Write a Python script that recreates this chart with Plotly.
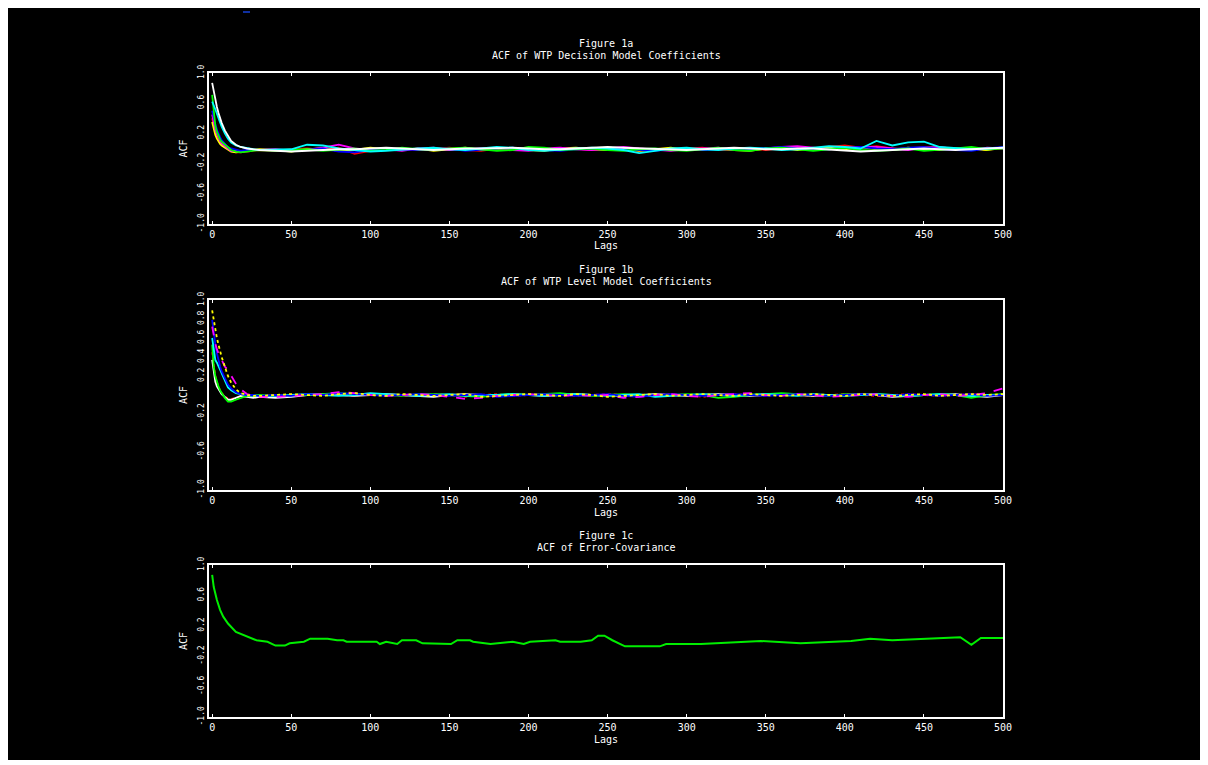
import plotly.graph_objects as go

# page body has an 8px margin; the figure covers x 8..1200, y 8..760 of the window
OFF = 8
W, H = 1192, 752

# ---------------- data ----------------
LAG_HEAD = [0, 1, 2, 3, 4, 5, 6, 8, 10, 12, 15, 18, 22, 26, 30]
LAG_TAIL = list(range(40, 501, 10))
LAGS = LAG_HEAD + LAG_TAIL

X_TICKS = [0, 50, 100, 150, 200, 250, 300, 350, 400, 450, 500]
Y_TICKS_A = [1.0, 0.6, 0.2, -0.2, -0.6, -1.0]
Y_TEXT_A = ["1.0", "0.6", "0.2", "-0.2", "-0.6", "-1.0"]
Y_TICKS_B = [1.0, 0.8, 0.6, 0.4, 0.2, -0.2, -0.6, -1.0]
Y_TEXT_B = ["1.0", "0.8", "0.6", "0.4", "0.2", "-0.2", "-0.6", "-1.0"]

# Figure 1a: ACF of WTP Decision Model Coefficients
a_red = [0.40, 0.30, 0.22, 0.16, 0.12, 0.08, 0.05, 0.02, -0.01, -0.03, -0.05, -0.05, -0.04, -0.03, -0.02,
         -0.03, -0.01, 0.00, -0.02, 0.01, -0.07, -0.03, -0.01, 0.00, -0.02,
         -0.01, 0.01, -0.02, -0.03, 0.00, -0.01, 0.01, -0.02, -0.01, 0.00,
         -0.02, 0.01, 0.00, -0.03, -0.02, -0.01, 0.00, 0.01, -0.02, -0.01,
         0.00, -0.02, 0.01, 0.02, 0.00, 0.02, 0.04, 0.01, 0.03, 0.00,
         -0.01, 0.02, 0.00, -0.02, 0.01, -0.01, 0.00]
a_yellow = [0.35, 0.25, 0.18, 0.13, 0.09, 0.06, 0.04, 0.01, -0.02, -0.04, -0.05, -0.04, -0.03, -0.02, -0.01,
            -0.02, -0.04, -0.01, 0.00, -0.03, -0.02, 0.01, -0.01, -0.02, 0.00,
            -0.03, -0.01, 0.01, -0.02, -0.01, 0.00, -0.02, -0.03, 0.00, 0.01,
            -0.01, -0.02, 0.00, -0.03, -0.01, 0.01, -0.02, -0.01, 0.00, -0.02,
            -0.03, 0.00, 0.01, -0.02, 0.00, 0.01, -0.01, 0.02, -0.01, -0.02,
            0.01, -0.01, -0.02, 0.00, -0.01, -0.02, 0.01]
a_magenta = [0.45, 0.33, 0.25, 0.19, 0.14, 0.10, 0.07, 0.03, 0.00, -0.03, -0.04, -0.04, -0.03, -0.02, -0.02,
             -0.01, -0.03, -0.02, 0.01, 0.05, 0.00, -0.02, -0.01, -0.03, 0.00,
             0.01, -0.02, -0.01, 0.00, 0.01, -0.02, -0.03, 0.00, 0.01, -0.01,
             -0.02, 0.00, 0.02, 0.00, -0.02, -0.03, -0.01, 0.00, 0.01, -0.02,
             -0.01, 0.00, 0.02, 0.03, 0.01, -0.01, 0.01, 0.02, 0.02, 0.00,
             -0.02, 0.01, 0.02, -0.01, -0.02, 0.01, 0.00]
a_blue = [0.50, 0.40, 0.32, 0.25, 0.19, 0.15, 0.11, 0.06, 0.02, 0.00, -0.02, -0.03, -0.02, -0.02, -0.01,
          -0.02, -0.01, -0.02, 0.00, -0.04, -0.05, -0.02, 0.00, -0.01, -0.02,
          -0.01, 0.00, -0.03, -0.02, 0.00, 0.01, -0.01, -0.02, -0.03, -0.01,
          0.00, 0.01, -0.01, -0.02, -0.03, -0.01, 0.00, -0.02, -0.01, 0.00,
          -0.01, 0.01, 0.02, 0.00, -0.02, -0.01, 0.01, 0.02, 0.00, -0.01,
          0.01, 0.02, -0.01, -0.02, -0.03, 0.00, 0.02]
a_green = [0.71, 0.45, 0.30, 0.22, 0.16, 0.12, 0.09, 0.05, 0.01, -0.02, -0.04, -0.05, -0.04, -0.03, -0.02,
           -0.03, -0.02, -0.01, -0.03, -0.02, 0.00, -0.03, -0.02, 0.01, -0.01,
           -0.02, 0.00, 0.01, -0.01, -0.03, -0.02, 0.02, 0.01, -0.02, -0.01,
           0.00, -0.02, -0.03, -0.01, 0.00, -0.02, -0.03, -0.01, 0.01, -0.02,
           -0.03, 0.00, 0.01, -0.01, -0.03, -0.01, 0.01, -0.02, -0.03, -0.02,
           0.00, -0.03, -0.02, 0.00, 0.02, -0.01, 0.00]
a_cyan = [0.62, 0.58, 0.52, 0.46, 0.40, 0.34, 0.29, 0.20, 0.13, 0.08, 0.04, 0.02, 0.00, -0.01, -0.02,
          -0.02, -0.01, 0.05, 0.04, 0.00, -0.02, -0.04, -0.03, -0.01, 0.00,
          0.01, -0.01, -0.02, 0.00, 0.02, 0.01, -0.02, -0.03, -0.01, 0.00,
          0.01, 0.00, -0.02, -0.06, -0.03, 0.00, 0.01, -0.01, -0.02, 0.00,
          0.01, 0.00, -0.02, -0.01, 0.01, 0.03, 0.02, 0.00, 0.10, 0.04,
          0.08, 0.09, 0.02, 0.01, -0.01, 0.00, 0.01]
a_white = [0.87, 0.75, 0.64, 0.55, 0.47, 0.40, 0.34, 0.24, 0.16, 0.10, 0.05, 0.02, 0.00, -0.01, -0.02,
           -0.03, -0.04, -0.03, -0.02, -0.01, -0.01, 0.00, 0.01, 0.00, -0.01,
           -0.02, -0.01, 0.00, 0.00, 0.01, 0.01, 0.00, -0.01, -0.01, 0.00,
           0.01, 0.02, 0.01, 0.00, -0.01, -0.02, -0.02, -0.01, 0.00, 0.01,
           0.00, -0.01, -0.01, 0.00, 0.00, -0.01, -0.03, -0.04, -0.03, -0.02,
           -0.01, 0.00, -0.01, -0.02, -0.01, 0.00, 0.01]

# Figure 1b: ACF of WTP Level Model Coefficients
b_red = [0.45, 0.30, 0.20, 0.13, 0.08, 0.05, 0.02, -0.01, -0.04, -0.04, -0.03, -0.02, -0.01, 0.00, -0.01,
         0.00, -0.01, 0.00, 0.01, 0.00, -0.01, 0.01, 0.00, -0.01, 0.00,
         0.01, 0.00, -0.02, 0.00, 0.01, -0.01, 0.00, 0.01, 0.00, -0.01,
         0.00, 0.01, 0.00, -0.01, 0.00, 0.01, 0.00, -0.02, 0.00, 0.01,
         0.00, -0.01, 0.01, 0.00, -0.01, 0.00, 0.01, 0.00, -0.01, 0.00,
         0.01, 0.00, -0.01, 0.00, 0.01, 0.00, 0.00]
b_white = [0.37, 0.22, 0.14, 0.09, 0.06, 0.03, 0.01, -0.02, -0.05, -0.05, -0.03, -0.01, -0.02, -0.03, -0.02,
           -0.03, -0.02, 0.00, 0.01, 0.00, -0.01, 0.00, 0.01, 0.00, -0.01,
           -0.02, 0.00, 0.01, 0.00, -0.01, 0.01, 0.00, -0.01, 0.00, 0.01,
           0.00, 0.00, -0.01, 0.00, 0.01, 0.00, -0.01, 0.00, 0.01, 0.00,
           -0.01, 0.00, 0.01, 0.00, -0.01, 0.00, 0.00, 0.01, 0.00, -0.02,
           -0.01, 0.00, 0.00, 0.01, -0.01, -0.02, 0.00]
b_green = [0.53, 0.30, 0.20, 0.14, 0.09, 0.05, 0.02, -0.03, -0.07, -0.07, -0.05, -0.03, -0.01, 0.00, 0.00,
           -0.01, 0.00, 0.00, 0.01, 0.02, 0.01, 0.01, 0.00, -0.01, 0.01,
           0.01, 0.00, -0.01, -0.02, 0.00, 0.01, 0.00, 0.01, 0.02, 0.00,
           -0.01, 0.00, 0.01, 0.00, -0.01, 0.00, 0.01, 0.00, -0.03, -0.02,
           0.00, 0.01, 0.02, 0.01, 0.00, -0.01, 0.01, 0.00, 0.01, 0.00,
           -0.01, 0.00, 0.01, 0.00, -0.03, 0.00, 0.01]
b_cyan = [0.60, 0.45, 0.37, 0.34, 0.30, 0.26, 0.22, 0.15, 0.08, 0.05, 0.02, 0.01, 0.00, -0.01, -0.01,
          -0.01, 0.00, 0.01, 0.00, -0.01, 0.00, 0.02, 0.01, 0.00, -0.01,
          0.00, 0.01, -0.01, 0.00, 0.00, 0.01, 0.00, -0.01, 0.00, 0.01,
          0.00, -0.01, 0.00, 0.01, -0.02, -0.01, 0.00, 0.01, 0.00, -0.01,
          0.00, 0.01, 0.00, -0.01, 0.01, 0.00, -0.01, 0.00, 0.01, 0.00,
          -0.01, 0.00, 0.01, 0.00, -0.01, 0.00, 0.00]
b_blue = [0.79, 0.65, 0.53, 0.44, 0.36, 0.30, 0.25, 0.17, 0.11, 0.07, 0.03, 0.01, 0.00, 0.00, -0.01,
          0.00, -0.01, 0.01, 0.00, 0.02, 0.01, 0.00, -0.01, 0.00, 0.01,
          0.00, -0.01, 0.00, 0.01, -0.02, -0.01, 0.00, 0.01, 0.00, -0.01,
          0.00, 0.01, -0.01, -0.02, 0.00, 0.01, 0.00, -0.01, 0.00, 0.01,
          0.00, -0.01, 0.00, 0.01, 0.00, -0.01, 0.00, 0.01, 0.00, -0.01,
          0.01, 0.00, -0.01, 0.00, 0.01, -0.01, 0.00]
b_magenta = [0.72, 0.62, 0.54, 0.48, 0.43, 0.40, 0.37, 0.30, 0.26, 0.20, 0.12, 0.06, 0.01, -0.01, -0.02,
             -0.02, -0.01, 0.00, 0.01, 0.03, 0.02, 0.00, -0.01, 0.00, 0.01,
             0.00, -0.02, -0.04, -0.03, -0.01, 0.00, 0.01, 0.00, -0.01, 0.00,
             -0.01, 0.00, -0.03, -0.02, 0.00, 0.01, -0.01, -0.02, 0.00, 0.01,
             0.02, 0.00, -0.01, 0.01, 0.00, -0.02, -0.01, 0.00, 0.01, -0.01,
             -0.02, 0.00, 0.01, -0.01, 0.00, 0.02, 0.07]
b_yellow = [0.89, 0.78, 0.68, 0.60, 0.53, 0.46, 0.40, 0.30, 0.20, 0.13, 0.06, 0.02, 0.00, -0.01, -0.01,
            0.00, 0.01, 0.00, -0.01, 0.01, 0.02, 0.00, -0.01, 0.01, 0.00,
            -0.01, 0.00, 0.01, -0.02, -0.01, 0.00, 0.01, 0.00, -0.01, 0.01,
            0.00, -0.02, -0.01, 0.00, 0.01, -0.01, 0.00, 0.01, 0.00, -0.01,
            0.01, 0.00, -0.01, 0.00, 0.01, 0.00, -0.01, 0.01, 0.00, -0.01,
            0.00, 0.01, -0.01, 0.00, 0.01, 0.00, 0.01]

# Figure 1c: ACF of Error-Covariance
c_lags = [0, 1, 3, 5, 7, 10, 15, 22, 28, 35,
          40, 46, 49, 58, 62, 73, 79, 83, 85, 104,
          106, 110, 117, 120, 129, 133, 151, 155, 163, 165,
          176, 190, 197, 201, 217, 220, 233, 240, 244, 248,
          253, 261, 283, 287, 309, 347, 372, 404, 416, 430,
          467, 473, 480, 486, 500]
c_green = [0.87, 0.71, 0.54, 0.41, 0.32, 0.23, 0.12, 0.06, 0.01, -0.01,
           -0.06, -0.06, -0.03, -0.01, 0.03, 0.03, 0.01, 0.01, -0.01, -0.01,
           -0.04, -0.01, -0.04, 0.01, 0.01, -0.03, -0.04, 0.01, 0.01, -0.01,
           -0.04, -0.01, -0.04, -0.01, 0.01, -0.01, -0.01, 0.01, 0.07, 0.07,
           0.01, -0.07, -0.07, -0.04, -0.04, 0.00, -0.03, 0.00, 0.03, 0.01,
           0.05, 0.05, -0.05, 0.04, 0.04]

# ---------------- figure ----------------
def px_x(p):
    return (p - OFF) / W

def px_y(p):
    return 1 - (p - OFF) / H

FONT = "DejaVu Sans Mono"
WHITE = "#ffffff"
FS = 10
FS_Y = 8

panels = [
    # (top px, bottom px, title, subtitle, tickvals, ticktext)
    (73, 224, "Figure 1a", "ACF of WTP Decision Model Coefficients", Y_TICKS_A, Y_TEXT_A),
    (300, 490, "Figure 1b", "ACF of WTP Level Model Coefficients", Y_TICKS_B, Y_TEXT_B),
    (565, 717, "Figure 1c", "ACF of Error-Covariance", Y_TICKS_A, Y_TEXT_A),
]
X_LEFT, X_RIGHT = 209, 1003

fig = go.Figure()

series_a = [("#ff0000", a_red, "solid"), ("#ffff00", a_yellow, "solid"), ("#ff00ff", a_magenta, "solid"),
            ("#0000ff", a_blue, "solid"), ("#00ff00", a_green, "solid"), ("#00ffff", a_cyan, "solid"),
            ("#ffffff", a_white, "solid")]
series_b = [("#ff0000", b_red, "dot"), ("#ffffff", b_white, "solid"), ("#00ff00", b_green, "solid"),
            ("#00ffff", b_cyan, "solid"), ("#0000ff", b_blue, "solid"), ("#ff00ff", b_magenta, "dash"),
            ("#ffff00", b_yellow, "dot")]

for color, vals, dash in series_a:
    fig.add_trace(go.Scatter(x=LAGS, y=vals, mode="lines", xaxis="x", yaxis="y",
                             line=dict(color=color, width=1.8, dash=dash), showlegend=False))
for color, vals, dash in series_b:
    fig.add_trace(go.Scatter(x=LAGS, y=vals, mode="lines", xaxis="x2", yaxis="y2",
                             line=dict(color=color, width=1.8, dash=dash), showlegend=False))
fig.add_trace(go.Scatter(x=c_lags, y=c_green, mode="lines", xaxis="x3", yaxis="y3",
                         line=dict(color="#00ee00", width=2), showlegend=False))

layout = dict(
    width=W, height=H,
    margin=dict(l=0, r=0, t=0, b=0),
    paper_bgcolor="#000000",
    plot_bgcolor="#000000",
    font=dict(family=FONT, size=FS, color=WHITE),
    showlegend=False,
    shapes=[
        dict(type="line", xref="paper", yref="paper", x0=px_x(243), x1=px_x(250),
             y0=px_y(12), y1=px_y(12), line=dict(color="#1030a0", width=2)),
    ],
    annotations=[],
)

for i, (top, bot, t1, t2, tv, tt) in enumerate(panels, start=1):
    sfx = "" if i == 1 else str(i)
    ydom = [px_y(bot), px_y(top)]
    layout["xaxis" + sfx] = dict(
        domain=[px_x(X_LEFT), px_x(X_RIGHT)], anchor="y" + sfx, range=[-2, 500],
        tickvals=X_TICKS, ticks="inside", ticklen=3, tickcolor=WHITE, tickwidth=1,
        showline=True, linecolor=WHITE, linewidth=2, mirror="ticks",
        showgrid=False, zeroline=False, tickfont=dict(size=FS, color=WHITE, family=FONT),
        automargin=False,
    )
    layout["yaxis" + sfx] = dict(
        domain=ydom, anchor="x" + sfx, range=[-1, 1],
        tickvals=tv, ticktext=tt, tickangle=-90, ticks="",
        showline=True, linecolor=WHITE, linewidth=2, mirror=True,
        showgrid=False, zeroline=False, tickfont=dict(size=FS_Y, color=WHITE, family=FONT),
        automargin=False,
    )
    # right-hand minor tick marks
    layout["yaxis" + str(i + 3)] = dict(
        overlaying="y" + sfx, anchor="x" + sfx, side="right", range=[-1, 1],
        dtick=0.1, tick0=-1, ticks="inside", ticklen=3, tickcolor=WHITE, tickwidth=1,
        showticklabels=False, showgrid=False, zeroline=False, showline=False,
        automargin=False,
    )
    xc = px_x((X_LEFT + X_RIGHT) / 2)
    common = dict(xref="paper", yref="paper", showarrow=False, xanchor="center", yanchor="middle",
                  font=dict(size=FS, color=WHITE, family=FONT))
    layout["annotations"] += [
        dict(text=t1, x=xc, y=px_y(top - 30), **common),
        dict(text=t2, x=xc, y=px_y(top - 18), **common),
        dict(text="Lags", x=xc, y=px_y(bot + 22), **common),
        dict(text="ACF", x=px_x(183), y=px_y((top + bot) / 2), textangle=-90, **common),
    ]

fig.update_layout(**layout)
fig.write_html("out.html")
